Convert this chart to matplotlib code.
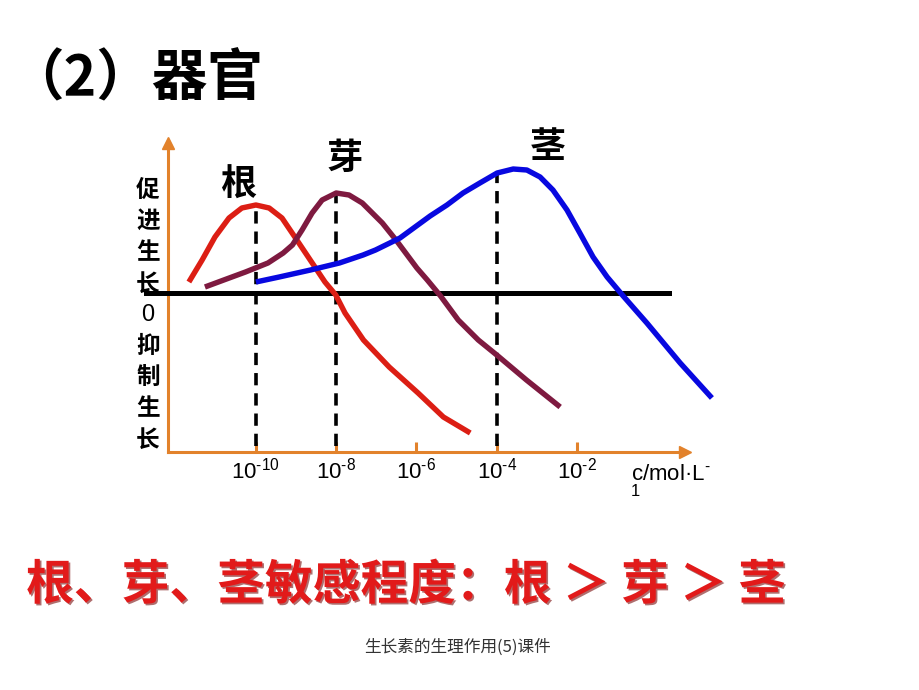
import matplotlib
matplotlib.use('Agg')
import matplotlib.pyplot as plt
import matplotlib.patheffects as pe

plt.rcParams['font.family'] = ['Noto Sans CJK SC', 'DejaVu Sans']
plt.rcParams['mathtext.default'] = 'regular'

# x = log10(c), y = effect (0 = neither promotes nor inhibits)
tick_pos = [-10, -8, -6, -4, -2]
tick_labels = ['$10^{\u201010}$', '$10^{\u20108}$', '$10^{\u20106}$', '$10^{\u20104}$', '$10^{\u20102}$']

root_x = [-11.67, -11.34, -11.02, -10.67, -10.35, -10.00, -9.67, -9.35, -9.03, -8.78,
          -8.53, -8.28, -8.01, -7.78, -7.32, -6.68, -5.96, -5.33, -4.66]
root_y = [0.11, 0.33, 0.56, 0.75, 0.85, 0.88, 0.85, 0.75, 0.56, 0.41,
          0.26, 0.11, -0.02, -0.20, -0.47, -0.74, -1.00, -1.24, -1.40]

bud_x = [-11.27, -10.80, -10.26, -9.70, -9.32, -9.09, -8.85, -8.60, -8.35, -8.00,
         -7.68, -7.35, -6.85, -6.51, -5.99, -5.73, -5.40, -4.96, -4.46, -4.00,
         -3.26, -2.42]
bud_y = [0.06, 0.13, 0.21, 0.30, 0.40, 0.48, 0.63, 0.80, 0.93, 1.00,
         0.98, 0.90, 0.70, 0.53, 0.25, 0.13, -0.03, -0.27, -0.47, -0.62,
         -0.87, -1.14]

stem_x = [-10.00, -9.42, -8.64, -7.92, -7.33, -7.02, -6.41, -5.66, -5.24, -4.84,
          -4.42, -3.99, -3.59, -3.25, -2.92, -2.60, -2.25, -1.93, -1.60, -1.25,
          -0.85, -0.26, 0.57, 1.36]
stem_y = [0.11, 0.16, 0.23, 0.30, 0.38, 0.43, 0.55, 0.77, 0.88, 1.00,
          1.10, 1.20, 1.24, 1.23, 1.16, 1.03, 0.83, 0.60, 0.36, 0.16,
          -0.03, -0.30, -0.70, -1.05]

organs = ['根', '芽', '茎']
optimum_x = [-10, -8, -4]
optimum_y = [0.88, 1.00, 1.20]
zero_line_x = [-12.73, 0.29]

orange = '#E2822B'
curve_colors = ['#DC1E14', '#7E1A40', '#0808E0']

fig = plt.figure(figsize=(9.2, 6.9), dpi=100)

def px(x, y):
    return x / 920, 1 - y / 690

ax = fig.add_axes([168 / 920, (690 - 452) / 690, 517 / 920, 309 / 690])
ax.set_xlim(-12.19, 0.69)
ax.set_ylim(-1.59, 1.50)
ax.patch.set_alpha(0)
for s in ['top', 'right']:
    ax.spines[s].set_visible(False)
for s in ['left', 'bottom']:
    ax.spines[s].set_color(orange)
    ax.spines[s].set_linewidth(2.2)
ax.set_yticks([])
ax.set_xticks(tick_pos, tick_labels)
ax.tick_params(axis='x', direction='in', length=7, width=2.2, color=orange,
               labelsize=16, pad=4, labelcolor='black')
for lbl in ax.get_xticklabels():
    lbl.set_fontfamily(['Liberation Sans', 'DejaVu Sans'])

# arrow heads
ax.plot([1], [0], '>', color=orange, ms=8, transform=ax.transAxes, clip_on=False)
ax.plot([0], [1], '^', color=orange, ms=8, transform=ax.transAxes, clip_on=False)

# zero line and optimum markers
ax.plot(zero_line_x, [0, 0], color='black', lw=3.6, clip_on=False, zorder=3)
for xv, yv in zip(optimum_x, optimum_y):
    ax.plot([xv, xv], [ax.get_ylim()[0] + 0.06, yv], color='black', lw=2.6,
            dashes=(3.4, 2.2), zorder=3)

for xs, ys, c in zip([root_x, bud_x, stem_x], [root_y, bud_y, stem_y], curve_colors):
    ax.plot(xs, ys, color=c, lw=3.9, solid_capstyle='butt', solid_joinstyle='round',
            clip_on=False, zorder=4)

# organ names
label_pos = [(-10.44, 1.08), (-7.78, 1.35), (-2.72, 1.45)]
for name, (lx, ly) in zip(organs, label_pos):
    ax.text(lx, ly, name, fontsize=26, fontweight='bold', ha='center', va='center',
            clip_on=False, zorder=5)

# vertical y-axis caption
ychars = ['促', '进', '生', '长', '0', '抑', '制', '生', '长']
for i, ch in enumerate(ychars):
    fig.text(*px(148, 190 + i * 31.2), ch, fontsize=17,
             fontweight='normal' if ch == '0' else 'bold', ha='center', va='center',
             family=['Liberation Sans'] if ch == '0' else ['Noto Sans CJK SC'])

# unit label
fig.text(*px(631, 474), 'c/mol·L$^{\u2010}$', fontsize=16,
         family=['Liberation Sans', 'DejaVu Sans'], ha='left', va='center')
fig.text(*px(635, 491), '1', fontsize=12, family=['Liberation Sans'],
         ha='center', va='center')

# title
fig.text(*px(8, 79), '（2）器官', fontsize=40, fontweight='bold', ha='left', va='center')

# conclusion
t = fig.text(*px(26, 585), '根、芽、茎敏感程度：根 ＞ 芽 ＞ 茎', fontsize=34.4,
             fontweight='heavy', color='#E21A1A', ha='left', va='center')
t.set_path_effects([pe.withSimplePatchShadow(offset=(1.2, -1.2), shadow_rgbFace='#7A0E0E',
                                              alpha=0.6)])

fig.text(*px(458, 647), '生长素的生理作用(5)课件', fontsize=12, color='#333333',
         ha='center', va='center')

fig.savefig('out.png', dpi=100, facecolor='white')
